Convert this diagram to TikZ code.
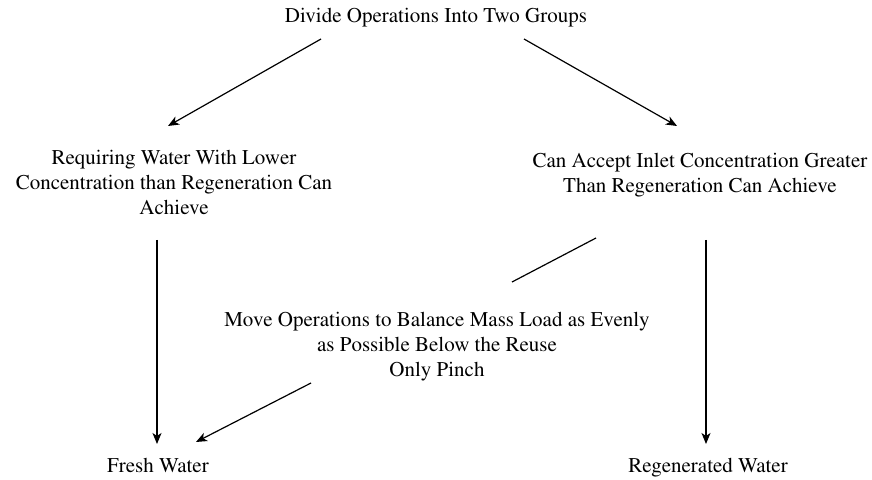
\documentclass[tikz,border=0pt]{standalone}
\usepackage[T1]{fontenc}
\usepackage{mathptmx}
\usepackage{tikz}
\usetikzlibrary{
  arrows.meta,
  positioning,
  calc
}
\tikzset{
  steptext/.style={inner sep=0pt,align=center,font=\fontsize{21}{25}\selectfont},
  flowarrow/.style={line width=1.2pt,-{Stealth[length=11pt,width=9pt,inset=3pt]}},
  flowline/.style={line width=1.2pt}
}

\begin{document}
\begin{tikzpicture}[x=1pt,y=1pt]
        \useasboundingbox (0,0) rectangle (872,479);
        \node[steptext] (groups) at (436,461) {Divide Operations Into Two Groups};
        \node[steptext] (lower) at (174,297) {Requiring Water With Lower\\Concentration than Regeneration Can\\Achieve};
        \node[steptext] (accept) at (700,304) {Can Accept Inlet Concentration Greater\\Than Regeneration Can Achieve};
        \node[steptext] (balance) at (437,132) {Move Operations to Balance Mass Load as Evenly\\as Possible Below the Reuse\\Only Pinch};
        \node[steptext] (fresh) at (158,14) {Fresh Water};
        \node[steptext] (regen) at (708,11) {Regenerated Water};

        \draw[flowarrow] ($(groups)+(-115,-21)$) -- ($(lower)+(-6,56)$);
        \draw[flowarrow] ($(groups)+(88,-21)$) -- ($(accept)+(-23,49)$);
        \draw[flowarrow] ($(lower)+(-17,-58)$) -- ($(fresh)+(-1,21)$);
        \draw[flowarrow] ($(accept)+(6,-65)$) -- ($(regen)+(-2,24)$);
        \draw[flowline] ($(accept)+(-104,-63)$) -- ($(balance)+(75,65)$);
        \draw[flowarrow] ($(balance)+(-126,-36)$) -- ($(fresh)+(38,23)$);
      \end{tikzpicture}
\end{document}
